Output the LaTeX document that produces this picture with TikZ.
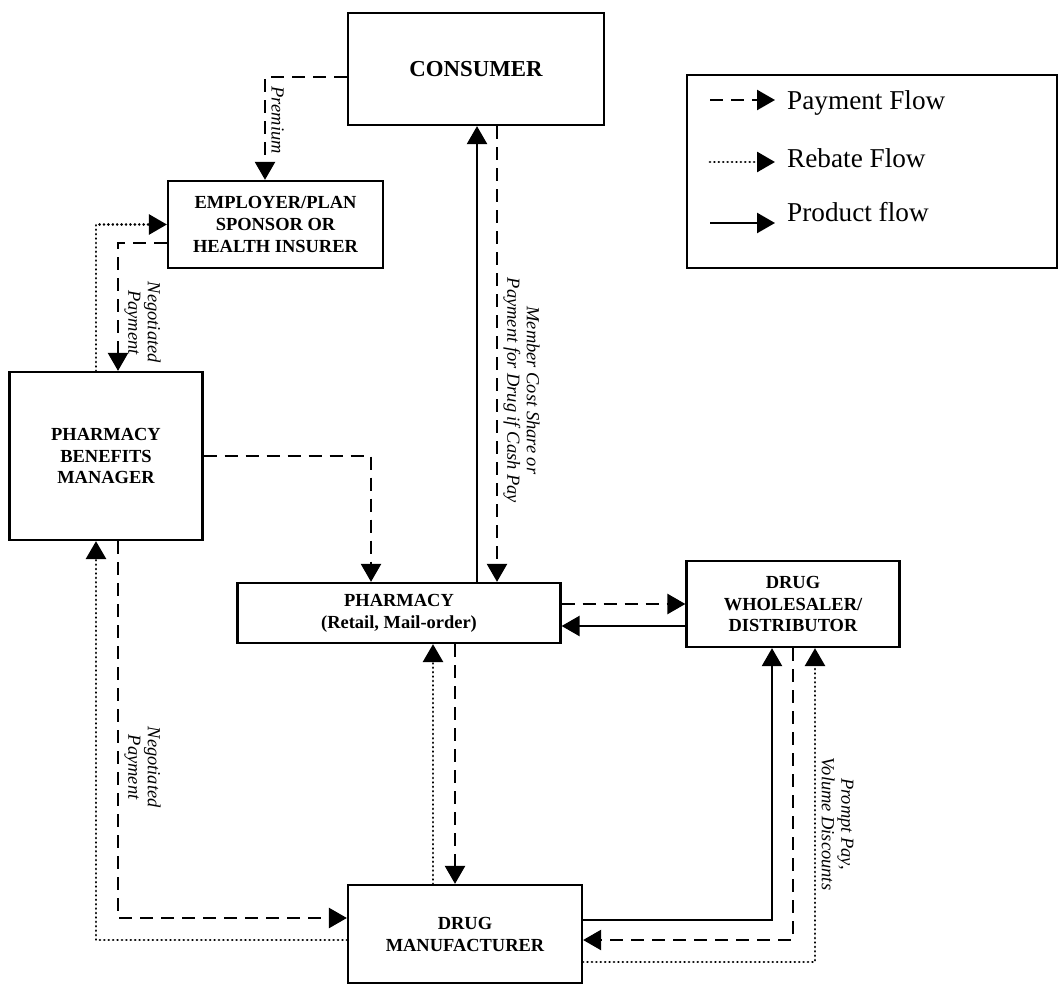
\documentclass[tikz,border=0pt]{standalone}
\usepackage{fontspec}
\setmainfont{Liberation Serif}
\usetikzlibrary{arrows.meta, calc}

\begin{document}
\begin{tikzpicture}[
    x=0.02cm, y=-0.02cm,
    entity/.style={draw, line width=1.3pt, align=center, inner sep=2pt,
        font=\bfseries\fontsize{10.5}{12.5}\selectfont},
    flow/.style={line width=1.4pt, -{Triangle[length=0.36cm, width=0.4cm]}},
    payment/.style={flow, dash pattern=on 0.26cm off 0.16cm},
    rebate/.style={flow, line width=1.6pt, dash pattern=on 0.01pt off 2.5pt, line cap=round},
    product/.style={flow},
    flowlabel/.style={rotate=-90, anchor=south, align=center, inner sep=3pt,
        font=\itshape\fontsize{10.5}{11}\selectfont},
    legendtext/.style={anchor=west, font=\fontsize{15.5}{18}\selectfont}
]

\useasboundingbox (0,0) rectangle (1058,986);

% ------------------------------------------------
% Entities
% ------------------------------------------------

\node[
    entity,
    minimum width=5.12cm,
    minimum height=2.24cm,
    font=\bfseries\fontsize{13}{15}\selectfont
] (consumer) at (476,69)
{CONSUMER};

\node[
    entity,
    minimum width=4.3cm,
    minimum height=1.74cm
] (employer) at (275.5,224.5)
{EMPLOYER/PLAN\\SPONSOR OR\\HEALTH INSURER};

\node[
    entity,
    minimum width=3.86cm,
    minimum height=3.36cm
] (pbm) at (106,456)
{PHARMACY\\BENEFITS\\MANAGER};

\node[
    entity,
    minimum width=6.46cm,
    minimum height=1.2cm
] (pharmacy) at (399,613)
{PHARMACY\\(Retail, Mail-order)};

\node[
    entity,
    minimum width=4.26cm,
    minimum height=1.72cm
] (wholesaler) at (793,604)
{DRUG\\WHOLESALER/\\DISTRIBUTOR};

\node[
    entity,
    minimum width=4.68cm,
    minimum height=1.96cm
] (manufacturer) at (465,934)
{DRUG\\MANUFACTURER};

% ------------------------------------------------
% Flows
% ------------------------------------------------

\draw[payment] ($(consumer.west)+(0,8)$) -| ($(employer.north)+(-10.5,0)$)
    node[flowlabel, pos=0.71] {Premium};

\draw[payment] ($(employer.west)+(0,18.5)$) -| ($(pbm.north)+(12,0)$)
    node[flowlabel, pos=0.81] {Negotiated\\Payment};

\draw[rebate] ($(pbm.north)+(-10,0)$) |- (employer.west);

\draw[payment] (pbm.east) -| ($(pharmacy.north)+(-28,0)$);

\draw[product] ($(pharmacy.north)+(78,0)$) -- ($(consumer.south)+(1,0)$);

\draw[payment] ($(consumer.south)+(21,0)$) -- ($(pharmacy.north)+(98,0)$)
    node[flowlabel, pos=0.58] {Member Cost Share or\\Payment for Drug if Cash Pay};

\draw[payment] ($(pharmacy.east)+(0,-9)$) -- (wholesaler.west);

\draw[product] ($(wholesaler.west)+(0,22)$) -- ($(pharmacy.east)+(0,13)$);

\draw[rebate] ($(manufacturer.north)+(-32,0)$) -- ($(pharmacy.south)+(34,0)$);

\draw[payment] ($(pharmacy.south)+(56,0)$) -- ($(manufacturer.north)+(-10,0)$);

\draw[rebate] ($(manufacturer.west)+(0,6)$) -| ($(pbm.south)+(-10,0)$);

\draw[payment] ($(pbm.south)+(12,0)$) |- ($(manufacturer.west)+(0,-16)$)
    node[flowlabel, pos=0.3] {Negotiated\\Payment};

\draw[product] ($(manufacturer.east)+(0,-14)$) -| ($(wholesaler.south)+(-21,0)$);

\draw[payment] (wholesaler.south) |- ($(manufacturer.east)+(0,6)$);

\draw[rebate] ($(manufacturer.east)+(0,28)$) -| ($(wholesaler.south)+(22,0)$)
    node[flowlabel, pos=0.72] {Prompt Pay,\\Volume Discounts};

% ------------------------------------------------
% Legend
% ------------------------------------------------

\node[
    draw,
    line width=1pt,
    minimum width=7.4cm,
    minimum height=3.86cm
] (legend) at (872,171.5)
{};

\coordinate (paystart) at (710,100);
\coordinate (payend) at (775,100);
\coordinate (rebstart) at (710,162);
\coordinate (rebend) at (775,162);
\coordinate (prodstart) at (710,223);
\coordinate (prodend) at (775,223);

\draw[payment] (paystart) -- (payend);
\draw[rebate] (rebstart) -- (rebend);
\draw[product] (prodstart) -- (prodend);

\node[legendtext] (paytext) at (781,103) {Payment Flow};
\node[legendtext] (rebtext) at (781,158) {Rebate Flow};
\node[legendtext] (prodtext) at (781,212) {Product flow};

\end{tikzpicture}
\end{document}
